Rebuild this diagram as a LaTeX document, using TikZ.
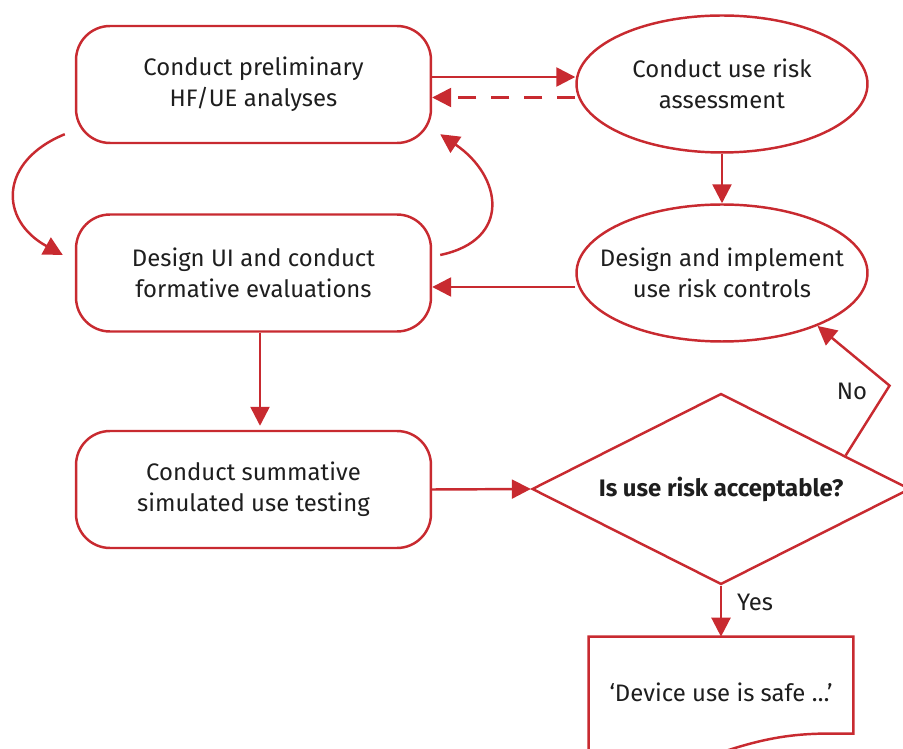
\documentclass[tikz,border=0pt]{standalone}
\usepackage{fontspec}
\setmainfont{Fira Sans}
\usetikzlibrary{shapes, shapes.geometric, arrows.meta, calc, positioning}
\definecolor{hfred}{RGB}{200, 42, 48}
\definecolor{hfink}{RGB}{30, 30, 30}

\begin{document}
\begin{tikzpicture}[x=0.02cm, y=-0.02cm,
    every node/.style={text=hfink, align=center, font=\fontsize{13.6}{17.6}\selectfont},
    stage/.style={draw=hfred, line width=1.4pt, rounded corners=0.68cm, minimum width=7.1cm, minimum height=2.34cm},
    riskoval/.style={draw=hfred, line width=1.4pt, ellipse, inner xsep=-0.45cm, inner ysep=0pt, minimum width=5.82cm, minimum height=2.74cm},
    decision/.style={draw=hfred, line width=1.4pt, diamond, aspect=2, inner sep=0pt, minimum width=7.56cm, minimum height=3.82cm, font=\fontsize{13.6}{17.6}\selectfont\bfseries},
    flow/.style={draw=hfred, line width=1.4pt, -{Triangle[length=0.38cm, width=0.38cm]}}]
        \useasboundingbox (0,0) rectangle (903,749);
        \clip (0,0) rectangle (903,749);

        \node[stage] (prelim) at (253.5, 84.5) {Conduct preliminary\\HF/UE analyses};
        \node[stage] (design) at (253.5, 273) {Design UI and conduct\\formative evaluations};
        \node[stage] (summ) at (253.5, 489.5) {Conduct summative\\simulated use testing};

        \node[riskoval] (assess) at (722, 84) {Conduct use risk\\assessment};
        \node[riskoval] (controls) at (722, 273) {Design and implement\\use risk controls};

        \node[decision] (check) at (721, 489) {Is use risk acceptable?};

        % document shape, drawn by hand round the node
        \node[minimum width=5.28cm, minimum height=2.2cm, inner sep=0pt] (safe) at (721, 692) {‘Device use is safe …’};
        \draw[draw=hfred, line width=1.4pt] ([shift={(0,123)}]safe.north west) -- (safe.north west) -- (safe.north east) -- ++(0,97)
            -- ++(-33,0) .. controls +(-40,1) and +(50,-18) .. ++(-120,26);

        \draw[flow] ([yshift=0.15cm]prelim.east) -- ([yshift=0.15cm]prelim.east -| assess.west);
        \draw[flow, dash pattern=on 0.36cm off 0.3cm] ([yshift=-0.27cm]assess.west) -- ([yshift=-0.27cm]assess.west -| prelim.east);
        \draw[flow] (assess.south) -- (controls.north);
        \draw[flow] ([yshift=-0.28cm]controls.west) -- ([yshift=-0.28cm]controls.west -| design.east);

        \draw[flow] ([shift={(-10,-10)}]prelim.south west) .. controls +(-66,27) and +(-64,-35) .. ([shift={(-12,-18)}]design.west);
        \draw[flow] ([shift={(8,-18)}]design.east) .. controls +(72,-15) and +(62,42) .. ([shift={(8,-10)}]prelim.south east);

        \draw[flow, shorten >=0.08cm] ([xshift=0.13cm]design.south) -- ([xshift=0.13cm]summ.north);
        \draw[flow] (summ.east) -- (check.west);

        \draw[flow] (check.15) -- ++(44,-70) -- (controls.-29);
        \node (no) at (852, 391) {No};
        \draw[flow] (check.south) -- (safe.north);
        \node (yes) at (755, 602) {Yes};
    \end{tikzpicture}
\end{document}
